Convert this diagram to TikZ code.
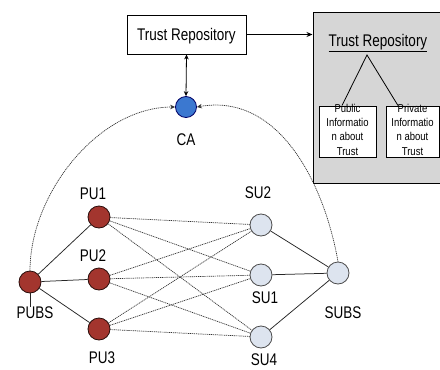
\documentclass[tikz,border=0pt]{standalone}
\usepackage{fontspec}
\setmainfont{Liberation Sans}
\usetikzlibrary{arrows.meta}
\newcommand\vst[1]{\scalebox{1}[1.25]{#1}}
\newcommand\smalltxt[1]{\scalebox{1}[1.2]{\fontsize{9.5}{11.8}\selectfont\begin{tabular}{@{}c@{}}#1\end{tabular}}}
\definecolor{pured}{HTML}{A3352E}
\definecolor{sufill}{HTML}{DDE4EF}
\definecolor{cablue}{HTML}{3B78D0}
\definecolor{boxgray}{HTML}{D6D6D6}
\begin{document}
\begin{tikzpicture}[x=1pt,y=-1pt,
  lbl/.style={inner sep=0pt,font=\fontsize{13.5}{16}\selectfont},
  pu/.style={circle,draw=black!75!pured,fill=pured,line width=0.8pt,minimum size=22pt,inner sep=0pt},
  su/.style={circle,draw=black!70,fill=sufill,line width=0.8pt,minimum size=22pt,inner sep=0pt},
  ca/.style={circle,draw=black!60!blue,fill=cablue,line width=0.8pt,minimum size=21pt,inner sep=0pt},
  solidedge/.style={draw=black!85,line width=0.75pt},
  dotedge/.style={draw=black!80,line width=0.7pt,dash pattern=on 1.1pt off 0.8pt},
  arcedge/.style={draw=black!80,line width=0.7pt,dash pattern=on 1.1pt off 0.8pt,-{Stealth[length=5pt,width=4.5pt]}},
  trbox/.style={draw,line width=0.9pt,fill=white,inner sep=0pt},
  arr/.style={line width=0.8pt,-{Stealth[length=6pt,width=5pt]}}
]
\useasboundingbox (0,0) rectangle (440,370);
\fill[white] (0,0) rectangle (440,370);

% Trust repository box and gray panel
\node[trbox,minimum width=119pt,minimum height=39pt] (tr) at (186.5,34.5) {};
\node[lbl] (trtext) at (186.5,36) {\vst{Trust Repository}};
\node[draw,line width=1pt,fill=boxgray,minimum width=130pt,minimum height=171pt,inner sep=0pt] (panel) at (378,97.5) {};
\node[lbl] (ptitle) at (378,43) {\vst{\underline{Trust Repository}}};
\coordinate (apex) at (367,55);
\node[trbox,minimum width=57pt,minimum height=51pt] (pub) at (347.5,131.5) {};
\node[trbox,minimum width=53pt,minimum height=51pt] (priv) at (412.5,131.5) {};
\node[inner sep=0pt] (pubtext) at (347.5,131) {\smalltxt{Public\\Informatio\\n about\\Trust}};
\node[inner sep=0pt] (privtext) at (412.5,131) {\smalltxt{Private\\Informatio\\n about\\Trust}};
\draw[line width=0.8pt] (pub.north -| 342,0) -- (apex) -- (priv.north -| 398,0);
\draw[arr] (tr.east) -- (panel.west |- tr.east);

% CA
\node[ca] (CA) at (186,107) {};
\node[lbl] (CAl) at (186,140) {\vst{CA}};
\draw[line width=0.8pt,{Stealth[length=5pt,width=4.5pt]}-{Stealth[length=5pt,width=4.5pt]}] (tr.south) -- (CA.north);

% nodes
\node[pu] (PUBS) at (30,282) {};
\node[pu] (PU1) at (99,217) {};
\node[pu] (PU2) at (99,279) {};
\node[pu] (PU3) at (99,329) {};
\node[su] (SU2) at (261,225) {};
\node[su] (SU1) at (261,275) {};
\node[su] (SU4) at (261,337) {};
\node[su] (SUBS) at (338,273) {};

\node[lbl] (PUBSl) at (35,313) {\vst{PUBS}};
\node[lbl] (PU1l) at (93,194) {\vst{PU1}};
\node[lbl] (PU2l) at (93,256) {\vst{PU2}};
\node[lbl] (PU3l) at (102,358) {\vst{PU3}};
\node[lbl] (SU2l) at (258,193) {\vst{SU2}};
\node[lbl] (SU1l) at (265,298) {\vst{SU1}};
\node[lbl] (SU4l) at (264,360) {\vst{SU4}};
\node[lbl] (SUBSl) at (343,313) {\vst{SUBS}};
\draw[solidedge] (PUBS.south) -- (PUBSl.north -| PUBS.south);

% edges
\foreach \p in {PU1,PU2,PU3}{
  \draw[solidedge] (PUBS) -- (\p);
  \foreach \s in {SU2,SU1,SU4}{
    \draw[dotedge] (\p) -- (\s);
  }
}
\foreach \s in {SU2,SU1,SU4}{
  \draw[solidedge] (\s) -- (SUBS);
}
\draw[arcedge] (PUBS.north) to[out=90,in=180,looseness=0.9] (CA.west);
\draw[arcedge] (SUBS.north) to[out=100,in=10] (CA.east);
\end{tikzpicture}
\end{document}
